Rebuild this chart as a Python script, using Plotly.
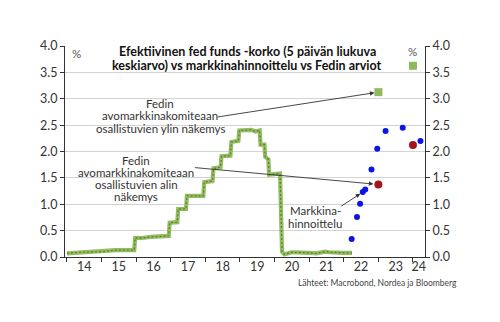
import plotly.graph_objects as go

# Effective fed funds rate (5-day moving average)
ffr_dates = ["2014-01-01", "2014-06-01", "2014-12-31", "2015-06-01", "2015-12-12", "2015-12-21",
             "2016-03-01", "2016-06-01", "2016-12-10", "2016-12-20", "2017-03-10", "2017-03-20",
             "2017-06-10", "2017-06-20", "2017-12-10", "2017-12-20", "2018-03-17", "2018-03-27",
             "2018-06-10", "2018-06-20", "2018-09-22", "2018-10-02", "2018-12-15", "2018-12-25",
             "2019-05-01", "2019-06-15", "2019-07-28", "2019-08-06", "2019-09-16", "2019-09-24",
             "2019-10-28", "2019-11-04", "2020-02-28", "2020-03-06", "2020-03-13", "2020-03-20",
             "2020-04-15", "2020-07-01", "2021-01-01", "2021-03-15", "2021-06-20", "2021-08-01",
             "2021-12-31", "2022-03-28"]
ffr_values = [0.07, 0.09, 0.10, 0.13, 0.13, 0.36,
              0.36, 0.38, 0.40, 0.65, 0.66, 0.91,
              0.91, 1.16, 1.16, 1.42, 1.44, 1.68,
              1.70, 1.91, 1.92, 2.18, 2.20, 2.40,
              2.41, 2.38, 2.40, 2.13, 2.13, 1.90,
              1.85, 1.56, 1.58, 1.10, 1.10, 0.10,
              0.05, 0.09, 0.08, 0.07, 0.10, 0.09,
              0.08, 0.08]

# Market pricing
mkt_dates = ["2022-03-25", "2022-05-20", "2022-06-22", "2022-07-20", "2022-08-15",
             "2022-10-20", "2022-12-20", "2023-03-18", "2023-09-15", "2024-03-20"]
mkt_values = [0.34, 0.76, 1.01, 1.23, 1.28, 1.66, 2.05, 2.39, 2.45, 2.20]

# Fed FOMC participants: lowest and highest views
fed_low_dates = ["2023-01-01", "2024-01-01"]
fed_low_values = [1.375, 2.125]
fed_high_dates = ["2023-01-01", "2024-01-01"]
fed_high_values = [3.125, 3.625]

year_ticks = [f"{y}-01-01" for y in range(2014, 2025)]
label_pos = [f"{y}-07-02" for y in range(2014, 2024)] + ["2024-03-01"]
label_text = [str(y)[2:] for y in range(2014, 2025)]
y_ticks = [0, 0.5, 1.0, 1.5, 2.0, 2.5, 3.0, 3.5, 4.0]

xr = ["2013-12-11", "2024-05-07"]
FONT = "Lato"
TXT = "#333333"

fig = go.Figure()
fig.add_trace(go.Scatter(x=ffr_dates, y=ffr_values, mode="lines",
                         line=dict(color="#93bd5f", width=4.2), hoverinfo="skip"))
fig.add_trace(go.Scatter(x=ffr_dates, y=ffr_values, mode="lines",
                         line=dict(color="#5f8139", width=1.3, dash="2px,2px"), hoverinfo="skip"))
fig.add_trace(go.Scatter(x=mkt_dates, y=mkt_values, mode="markers",
                         marker=dict(color="#0a14e6", size=6)))
fig.add_trace(go.Scatter(x=fed_low_dates, y=fed_low_values, mode="markers",
                         marker=dict(color="#a3141b", size=8)))
fig.add_trace(go.Scatter(x=fed_high_dates, y=fed_high_values, mode="markers",
                         marker=dict(color="#8dba5c", size=8, symbol="square")))
# helper invisible traces for secondary axes
fig.add_trace(go.Scatter(x=label_pos, y=[None] * len(label_pos), xaxis="x2", yaxis="y",
                         mode="lines", showlegend=False, hoverinfo="skip"))
fig.add_trace(go.Scatter(x=ffr_dates[:2], y=[None, None], xaxis="x", yaxis="y2",
                         mode="lines", showlegend=False, hoverinfo="skip"))

fig.update_layout(
    width=500, height=322,
    margin=dict(l=65, r=75, t=46, b=65),
    paper_bgcolor="white", plot_bgcolor="white",
    showlegend=False,
    font=dict(family=FONT, color=TXT, size=12),
    xaxis=dict(type="date", range=xr, tickvals=year_ticks, showticklabels=False,
               ticks="outside", ticklen=4, tickcolor="#333", showgrid=False,
               showline=True, linecolor="#333", linewidth=1, zeroline=False),
    xaxis2=dict(type="date", range=xr, overlaying="x", side="bottom",
                tickvals=label_pos, ticktext=label_text, ticks="", showgrid=False,
                showline=False, zeroline=False, tickfont=dict(size=12.5, color=TXT)),
    yaxis=dict(range=[0, 4.0], tickvals=y_ticks, tickformat=".1f", ticks="outside",
               ticklen=4, tickcolor="#333", showline=True, linecolor="#333", linewidth=1,
               gridcolor="#d3d3d3", gridwidth=1, zeroline=False,
               tickfont=dict(size=12.5, color=TXT)),
    yaxis2=dict(range=[0, 4.0], tickvals=y_ticks, tickformat=".1f", overlaying="y",
                side="right", ticks="outside", ticklen=4, tickcolor="#333",
                showline=True, linecolor="#333", linewidth=1, showgrid=False,
                zeroline=False, tickfont=dict(size=12.5, color=TXT)),
)

def px(xp, yp):
    return (xp - 65) / 360, (257 - yp) / 211

def label(text, xp, yp, size, color=TXT):
    a, b = px(xp, yp)
    return dict(text=text, x=a, y=b, xref="paper", yref="paper", showarrow=False,
                xanchor="center", yanchor="middle", align="center",
                font=dict(size=size, color=color))

anns = []
anns.append(label("<b>Efektiivinen fed funds -korko (5 päivän liukuva</b>", 247, 52, 12.5, "#111"))
anns.append(label("<b>keskiarvo) vs markkinahinnoittelu vs Fedin arviot</b>", 247, 65, 12.5, "#111"))
anns.append(label("%", 76, 53, 11.5, "#555"))
anns.append(label("%", 412, 52, 11.5, "#555"))
for t, yy in [("Fedin", 103), ("avomarkkinakomiteaan", 115.5), ("osallistuvien ylin näkemys", 128)]:
    anns.append(label(t, 160, yy, 11.5))
for t, yy in [("Fedin", 160), ("avomarkkinakomiteaan", 172), ("osallistuvien alin", 184), ("näkemys", 196)]:
    anns.append(label(t, 136, yy, 11.5))
for t, yy in [("Markkina-", 210), ("hinnoittelu", 223.5)]:
    anns.append(label(t, 315, yy, 11.5))
anns.append(label("Lähteet: Macrobond, Nordea ja Bloomberg", 377, 283, 8.5, "#444"))
# arrows
anns.append(dict(x=fed_high_dates[0], y=fed_high_values[0], xref="x", yref="y", text="",
                 showarrow=True, ax=-162, ay=25, arrowhead=2, arrowsize=1, arrowwidth=0.9,
                 arrowcolor="#333", standoff=4))
anns.append(dict(x=fed_low_dates[0], y=fed_low_values[0], xref="x", yref="y", text="",
                 showarrow=True, ax=-185, ay=-17, arrowhead=2, arrowsize=1, arrowwidth=0.9,
                 arrowcolor="#333", standoff=5))
anns.append(dict(x=mkt_dates[3], y=mkt_values[3], xref="x", yref="y", text="",
                 showarrow=True, ax=-23, ay=15, arrowhead=2, arrowsize=1, arrowwidth=0.9,
                 arrowcolor="#333", standoff=3))
fig.update_layout(annotations=anns)

fig.write_html("out.html")
